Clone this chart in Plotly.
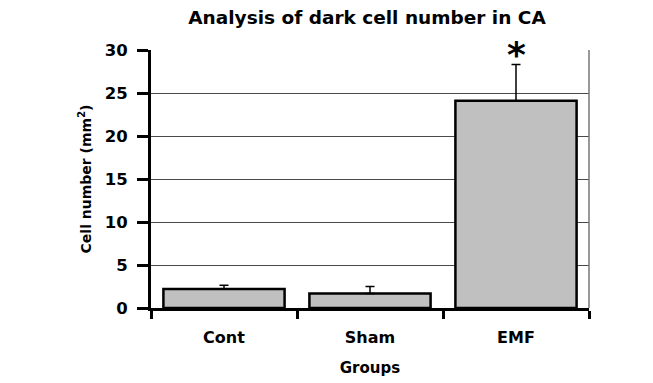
import plotly.graph_objects as go

categories = ["Cont", "Sham", "EMF"]
values = [2.2, 1.7, 24.1]
errors = [0.45, 0.8, 4.2]
y_ticks = [0, 5, 10, 15, 20, 25, 30]

FONT = "DejaVu Sans, Verdana, sans-serif"

fig = go.Figure()
fig.add_trace(go.Bar(
    x=categories, y=values,
    marker=dict(color="#c0c0c0", line=dict(color="black", width=2.5)),
    width=0.83,
    error_y=dict(type="data", array=errors, arrayminus=[0]*len(errors),
                 symmetric=False, color="black", thickness=1.5, width=4.5),
))

fig.add_annotation(x="EMF", y=values[2] + errors[2], text="<b>*</b>",
                   showarrow=False, yanchor="bottom", yshift=-12,
                   font=dict(family=FONT, size=36, color="black"))

fig.update_layout(
    width=653, height=383,
    margin=dict(l=143, r=72, t=42, b=83),
    paper_bgcolor="white", plot_bgcolor="white",
    showlegend=False,
    title=dict(text="<b>Analysis of dark cell number in CA</b>",
               xref="container", x=(367 - 8) / 653, xanchor="center",
               yref="container", y=1 - 10 / 383, yanchor="middle",
               font=dict(family=FONT, size=18.5, color="black")),
    font=dict(family=FONT, color="black"),
)

fig.update_xaxes(
    showline=True, linecolor="black", linewidth=3,
    ticks="outside", tickson="boundaries", ticklen=8, tickwidth=2.5, tickcolor="black",
    tickfont=dict(family=FONT, size=16, color="black"),
    tickprefix="<b>", ticksuffix="</b>",
    ticklabelstandoff=13,
    title=dict(text="<b>Groups</b>", font=dict(family=FONT, size=15, color="black"), standoff=17),
)
fig.update_yaxes(
    range=[0, 30], tickvals=y_ticks, ticktext=[f"<b>{v}</b>" for v in y_ticks],
    showline=True, linecolor="black", linewidth=3,
    ticks="outside", ticklen=11, tickwidth=2.5, tickcolor="black",
    tickfont=dict(family=FONT, size=16.5, color="black"),
    ticklabelstandoff=6,
    showgrid=True, gridcolor="#4a4a4a", gridwidth=1.3,
    zeroline=False,
    title=dict(text="<b>Cell number (mm<sup>2</sup>)</b>", font=dict(family=FONT, size=14, color="black"), standoff=10),
)

# thin right border
fig.add_shape(type="line", xref="paper", yref="paper", x0=1, x1=1, y0=0, y1=1,
              line=dict(color="#777777", width=1.5))

fig.write_html("out.html")
